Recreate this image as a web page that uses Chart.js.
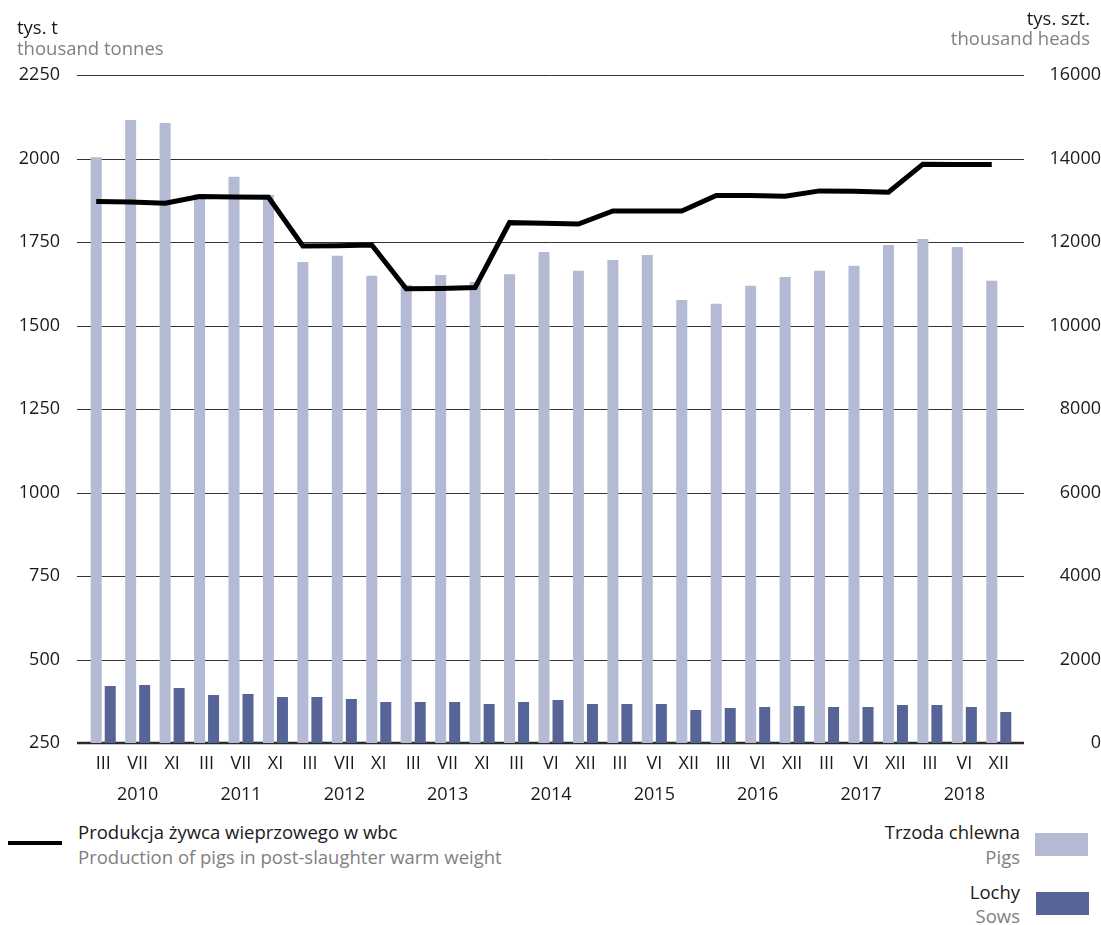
<!DOCTYPE html>
<html>
<head>
<meta charset="utf-8">
<script src="https://cdn.jsdelivr.net/npm/chart.js@4/dist/chart.umd.min.js"></script>
<style>
	body { margin: 0; background: #fff; font-family: "Open Sans", sans-serif; }
	#wrap { position: relative; width: 1101px; height: 925px; }
	#chart { position: absolute; left: 0; top: 0; }
	.txt { position: absolute; font-size: 18.5px; line-height: 20px; white-space: nowrap; }
	.pl { color: #1a1a1a; }
	.en { color: #808080; }
	.right { text-align: right; }
	.swatch { position: absolute; }
</style>
</head>
<body>
<div id="wrap">
	<canvas id="chart" width="1101" height="815"></canvas>

	<div class="txt pl" style="left:17px; top:17px;">tys. t</div>
	<div class="txt en" style="left:17px; top:38px;">thousand tonnes</div>
	<div class="txt pl right" style="right:11px; top:8px;">tys. szt.</div>
	<div class="txt en right" style="right:11px; top:28px;">thousand heads</div>

	<div class="swatch" style="left:8px; top:841px; width:54px; height:4px; background:#000;"></div>
	<div class="txt pl" style="left:78px; top:822px;">Produkcja żywca wieprzowego w wbc</div>
	<div class="txt en" style="left:78px; top:847px;">Production of pigs in post-slaughter warm weight</div>

	<div class="txt pl right" style="right:81px; top:822px;">Trzoda chlewna</div>
	<div class="txt en right" style="right:81px; top:847px;">Pigs</div>
	<div class="swatch" style="left:1035px; top:833px; width:53px; height:23px; background:#b4bad3;"></div>
	<div class="txt pl right" style="right:81px; top:882px;">Lochy</div>
	<div class="txt en right" style="right:81px; top:906px;">Sows</div>
	<div class="swatch" style="left:1036px; top:892px; width:53px; height:23px; background:#566498;"></div>
</div>

<script>
	// months of the survey per year, year labels sit under the middle month
	var years = ['2010', '2011', '2012', '2013', '2014', '2015', '2016', '2017', '2018'];
	var monthsOld = ['III', 'VII', 'XI'];
	var monthsNew = ['III', 'VI', 'XII'];

	// thousand heads (right axis)
	var pigs = [14030, 14920, 14850, 13150, 13560, 13130, 11520, 11670, 11190,
		10970, 11210, 11040, 11230, 11760, 11310, 11570, 11690, 10610,
		10520, 10950, 11160, 11310, 11430, 11930, 12070, 11880, 11070];
	var sows = [1365, 1390, 1317, 1150, 1174, 1102, 1102, 1054, 982,
		982, 982, 934, 982, 1030, 934, 934, 934, 790,
		838, 862, 886, 862, 862, 910, 910, 862, 742];

	// thousand tonnes (left axis)
	var production = [1871, 1870, 1866, 1886, 1885, 1884, 1738, 1739, 1741,
		1610, 1611, 1614, 1808, 1806, 1804, 1843, 1843, 1843,
		1889, 1889, 1887, 1903, 1902, 1899, 1983, 1982, 1982];

	var labels = [];
	years.forEach(function(year) {
		var months = parseInt(year) < 2014 ? monthsOld : monthsNew;
		months.forEach(function(m, j) {
			labels.push([m, j == 1 ? year : '']);
		});
	});

	var uiFont = '"Open Sans", sans-serif';
	var tickFont = { family: uiFont, size: 18 };
	var plainNumber = function(value) { return String(value); };

	// horizontal grid lines, a bit wider than the category area, behind the bars
	var gridPlugin = {
		id: 'gridLines',
		beforeDatasetsDraw: function(chart) {
			var ctx = chart.ctx;
			var yScale = chart.scales.y;
			ctx.save();
			yScale.ticks.forEach(function(t) {
				var py = Math.round(yScale.getPixelForValue(t.value));
				ctx.beginPath();
				if (t.value == yScale.min) {
					ctx.lineWidth = 2.5;
					ctx.strokeStyle = '#2b2b2b';
				} else {
					ctx.lineWidth = 1;
					ctx.strokeStyle = '#333';
					py += 0.5;
				}
				ctx.moveTo(77, py);
				ctx.lineTo(1024, py);
				ctx.stroke();
			});
			ctx.restore();
		}
	};

	// the line is centred on the light bars, not on the category centre
	var lineShift = {
		id: 'lineShift',
		beforeDatasetDraw: function(chart, args) {
			if (args.meta.type != 'line') return;
			var bar = chart.getDatasetMeta(0).data[0];
			var shift = bar.x - chart.scales.x.getPixelForValue(0);
			chart.ctx.save();
			chart.ctx.translate(shift, 0);
		},
		afterDatasetDraw: function(chart, args) {
			if (args.meta.type != 'line') return;
			chart.ctx.restore();
		}
	};

	var ctx = document.getElementById('chart').getContext('2d');
	var myChart = new Chart(ctx, {
		type: 'bar',
		data: {
			labels: labels,
			datasets: [
				{ label: 'Trzoda chlewna', data: pigs, yAxisID: 'y1', backgroundColor: '#b4bad3', order: 1 },
				{ label: 'Lochy', data: sows, yAxisID: 'y1', backgroundColor: '#566498', order: 1 },
				{
					type: 'line', label: 'Produkcja żywca wieprzowego w wbc', data: production, yAxisID: 'y',
					borderColor: '#000', borderWidth: 5, pointRadius: 0, tension: 0,
					borderJoinStyle: 'miter', order: 0
				}
			]
		},
		options: {
			responsive: false,
			animation: false,
			devicePixelRatio: 1,
			categoryPercentage: 0.814,
			barPercentage: 0.786,
			layout: { padding: { top: 75, left: 0, right: 0, bottom: 0 } },
			plugins: { legend: { display: false }, tooltip: { enabled: false } },
			scales: {
				x: {
					grid: { display: false, drawTicks: false },
					border: { display: false },
					ticks: {
						font: { family: uiFont, size: 18, lineHeight: 1.72 },
						color: '#1a1a1a', padding: 5, maxRotation: 0, autoSkip: false
					},
					afterFit: function(s) { s.height = 72; }
				},
				y: {
					position: 'left', min: 250, max: 2250,
					grid: { display: false, drawTicks: false },
					border: { display: false },
					ticks: { stepSize: 250, padding: 26, font: tickFont, color: '#1a1a1a', callback: plainNumber },
					afterFit: function(s) { s.width = 86; }
				},
				y1: {
					position: 'right', min: 0, max: 16000,
					grid: { display: false, drawTicks: false },
					border: { display: false },
					ticks: { stepSize: 2000, padding: 24, crossAlign: 'far', font: tickFont, color: '#1a1a1a', callback: plainNumber },
					afterFit: function(s) { s.width = 85; }
				}
			}
		},
		plugins: [gridPlugin, lineShift]
	});
</script>
</body>
</html>
